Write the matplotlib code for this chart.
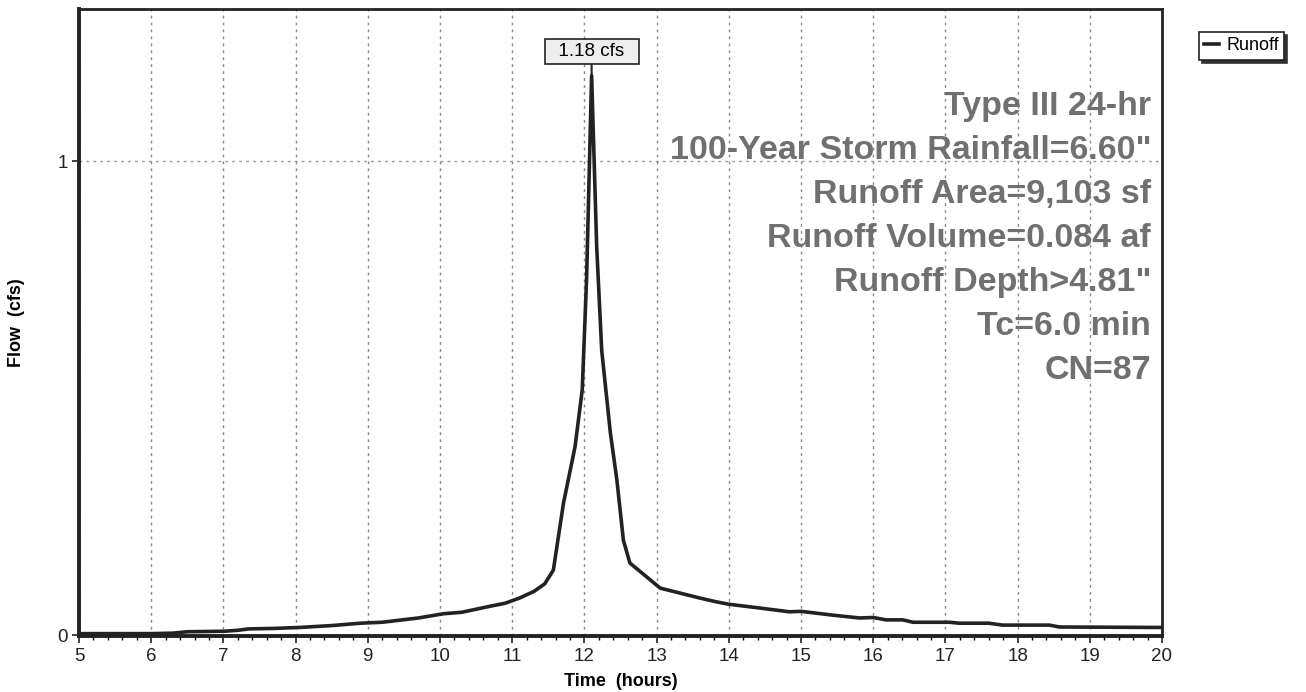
import numpy as np
import matplotlib.pyplot as plt
from matplotlib.ticker import MultipleLocator

plt.rcParams['font.family'] = ['Liberation Sans', 'DejaVu Sans']

# runoff hydrograph (hours, cfs)
time_hr = [5.0, 6.0, 6.3, 6.5, 7.0, 7.2, 7.35, 7.7, 8.05, 8.5, 8.9, 9.2, 9.7,
           10.05, 10.3, 10.7, 10.9, 11.1, 11.3, 11.45, 11.57, 11.71, 11.87,
           11.97, 12.03, 12.1, 12.17, 12.24, 12.36, 12.45, 12.54, 12.63,
           13.05, 13.6, 13.83, 14.0, 14.43, 14.84, 15.0, 15.44, 15.81, 16.0,
           16.18, 16.41, 16.55, 17.06, 17.19, 17.6, 17.79, 18.44, 18.58, 20.0]
flow_cfs = [0.003, 0.003, 0.004, 0.007, 0.008, 0.010, 0.013, 0.014, 0.016,
            0.020, 0.025, 0.027, 0.036, 0.045, 0.048, 0.061, 0.067, 0.078,
            0.092, 0.108, 0.137, 0.278, 0.397, 0.517, 0.75, 1.18, 0.82, 0.60,
            0.426, 0.327, 0.20, 0.152, 0.099, 0.078, 0.070, 0.065, 0.057,
            0.049, 0.050, 0.042, 0.036, 0.037, 0.032, 0.032, 0.027, 0.027,
            0.025, 0.025, 0.021, 0.021, 0.017, 0.016]

peak_time = 12.1
peak_flow = 1.18

info_lines = ['Type III 24-hr', '100-Year Storm Rainfall=6.60"',
              'Runoff Area=9,103 sf', 'Runoff Volume=0.084 af',
              'Runoff Depth>4.81"', 'Tc=6.0 min', 'CN=87']

fig = plt.figure(figsize=(13.06, 6.92), dpi=100)
ax = fig.add_axes([79 / 1306, 56 / 692, (1162 - 79) / 1306, (636 - 9) / 692])

ax.plot(time_hr, flow_cfs, color='#222222', lw=2.6, label='Runoff',
        solid_joinstyle='round')

ax.set_xlim(5, 20)
ax.set_ylim(-0.002, 1.3207)
ax.xaxis.set_major_locator(MultipleLocator(1))
ax.xaxis.set_minor_locator(MultipleLocator(0.2))
ax.set_yticks([0, 1])
ax.set_yticklabels(['0', '1'])
ax.tick_params(axis='both', which='major', labelsize=13.5, length=5, width=1.2,
               direction='out', colors='#222222')
ax.tick_params(axis='x', which='minor', length=3, width=1, direction='out')
ax.tick_params(axis='y', pad=3)

ax.grid(True, axis='x', which='major', color='#888888', ls=(0, (2, 3)), lw=1)
ax.axhline(1, color='#999999', ls=(0, (2, 3)), lw=1, zorder=0)

for side, w in [('left', 2.8), ('bottom', 2.8), ('top', 2), ('right', 2)]:
    ax.spines[side].set_linewidth(w)
    ax.spines[side].set_color('#222222')

ax.set_xlabel('Time  (hours)', fontsize=13, fontweight='bold', labelpad=6)
ax.set_ylabel('Flow  (cfs)', fontsize=13, fontweight='bold')
ax.yaxis.set_label_coords(-0.05, 0.5)

# peak label
ax.annotate(f'  {peak_flow:.2f} cfs  ', xy=(peak_time, peak_flow),
            xytext=(peak_time, 1.231), ha='center', va='center', fontsize=13.5,
            bbox=dict(boxstyle='square,pad=0.2', fc='#eeeeee', ec='#222222', lw=1.2),
            arrowprops=dict(arrowstyle='-', color='#222222', lw=1.5,
                            shrinkA=0, shrinkB=0))

# storm info block
for i, line in enumerate(info_lines):
    ax.text(0.99, 0.845 - i * 0.0702, line, transform=ax.transAxes,
            ha='right', va='center', fontsize=24.5, fontweight='bold',
            color='#707070')

leg = ax.legend(loc='upper left', bbox_to_anchor=(1199 / 1306, 1 - 32 / 692),
                bbox_transform=fig.transFigure, fontsize=13, frameon=True,
                fancybox=False, shadow={'color': '#333333', 'alpha': 1},
                handlelength=0.8, handletextpad=0.4, borderpad=0.3,
                borderaxespad=0)
leg.get_frame().set_edgecolor('#222222')
leg.get_frame().set_linewidth(1.2)

fig.savefig('out.png', dpi=100)
